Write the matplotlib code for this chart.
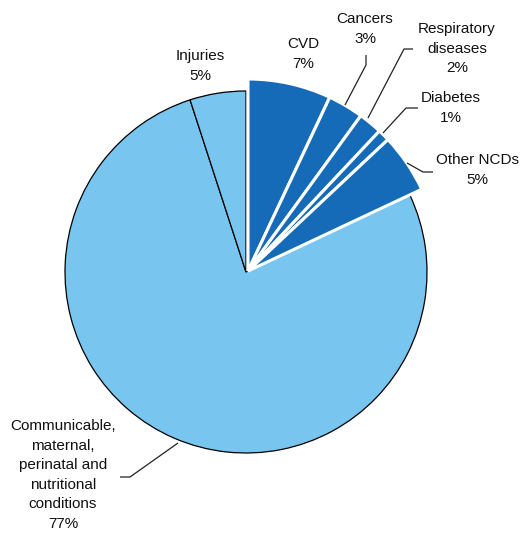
import matplotlib
matplotlib.use("Agg")
import matplotlib.pyplot as plt

# Data
ncd_labels = ["CVD", "Cancers", "Respiratory\ndiseases", "Diabetes", "Other NCDs"]
ncd_values = [7, 3, 2, 1, 5]
other_labels = ["Communicable,\nmaternal,\nperinatal and\nnutritional\nconditions", "Injuries"]
other_values = [77, 5]

DARK = "#156bb7"
LIGHT = "#78c6ef"

plt.rcParams['font.family'] = ['Liberation Sans', 'DejaVu Sans']

W, H = 522, 533
fig = plt.figure(figsize=(W / 100, H / 100), dpi=100)
ax = fig.add_axes([0, 0, 1, 1])

def Y(py):
    return H - py

total = sum(ncd_values) + sum(other_values)
start_light = 90 - 360 * sum(ncd_values) / total

# light slices
ax.pie([v / total for v in other_values], normalize=False, startangle=start_light,
       counterclock=False, radius=181, center=(246, Y(272)), colors=[LIGHT, LIGHT],
       wedgeprops=dict(edgecolor='black', linewidth=0.9), frame=True)
# dark NCD slices
ax.pie([v / total for v in ncd_values], normalize=False, startangle=90,
       counterclock=False, radius=192, center=(248, Y(271)), colors=[DARK] * 5,
       wedgeprops=dict(edgecolor='white', linewidth=2.2), frame=True)
ax.set_xlim(0, W)
ax.set_ylim(0, H)
ax.set_aspect('equal')
ax.axis('off')

fs = 11
ls = 1.5

def lab(text, val, x, y):
    ax.text(x, Y(y), f"{text}\n{val}%", ha='center', va='center', fontsize=fs,
            linespacing=ls, color='#111111')

lab(other_labels[1], other_values[1], 200, 66)
lab(ncd_labels[0], ncd_values[0], 303, 54)
lab(ncd_labels[1], ncd_values[1], 365, 29)
lab(ncd_labels[2], ncd_values[2], 457, 49)
lab(ncd_labels[3], ncd_values[3], 451, 108)
lab(ncd_labels[4], ncd_values[4], 477, 170)
lab(other_labels[0], other_values[0], 63, 475)

def leader(pts):
    xs = [p[0] for p in pts]
    ys = [Y(p[1]) for p in pts]
    ax.plot(xs, ys, color='#222222', lw=0.9, solid_capstyle='butt')

leader([(366, 55), (366, 65), (345, 105)])
leader([(413, 49), (404, 49), (368, 118)])
leader([(418, 108), (406, 108), (383, 133)])
leader([(433, 172), (423, 172), (407, 163)])
leader([(120, 477), (130, 477), (178, 443)])

fig.savefig("out.png", dpi=100)
